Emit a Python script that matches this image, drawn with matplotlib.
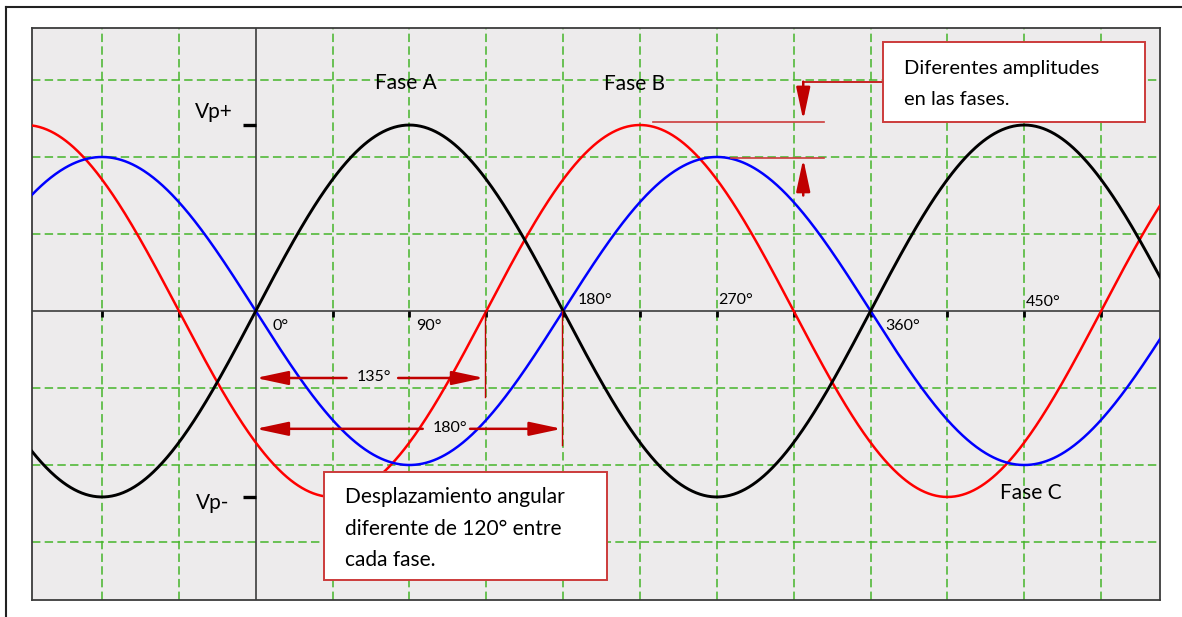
import numpy as np
import matplotlib.pyplot as plt
from matplotlib.lines import Line2D
from matplotlib.patches import Rectangle

"""
Three phase voltages with unbalanced amplitude and angle (Fase A, B, C).
x axis in electrical degrees, y axis in grid divisions.
"""

# phase data
phase_names = ["Fase A", "Fase B", "Fase C"]
amplitudes = [2.415, 2.415, 2.0]        # grid divisions
phase_shifts = [0.0, 135.0, 180.0]      # degrees
phase_colors = ["black", "#ff0000", "#0000ff"]
phase_widths = [2.1, 1.8, 1.8]

angle_labels = ["0°", "90°", "180°", "270°", "360°", "450°"]
angle_values = [0, 90, 180, 270, 360, 450]
axis_ticks = [-90, -45, 45, 90, 135, 180, 225, 270, 315, 360, 405, 450, 495]

x_min, x_max = -131.0, 529.5
y_min, y_max = -3.753, 3.675

font = ["Lato", "DejaVu Sans"]
dark_red = "#c00000"
box_red = "#cc3b3b"
grid_green = "#45b52a"

fig = plt.figure(figsize=(11.82, 6.17), dpi=100)
ax = fig.add_axes([32 / 1182, 1 - 600 / 617, 1128 / 1182, 572 / 617])
ax.set_facecolor("#edebec")
ax.set_xlim(x_min, x_max)
ax.set_ylim(y_min, y_max)
ax.set_xticks([])
ax.set_yticks([])
for sp in ax.spines.values():
    sp.set_color("#3c3c3c")
    sp.set_linewidth(1.3)

# dashed green grid, every 45 degrees / one division
for gx in np.arange(-90, 530, 45):
    if gx != 0:
        ax.axvline(gx, color=grid_green, lw=1.1, ls=(0, (5.5, 2.8)), zorder=1)
for gy in [-3, -2, -1, 1, 2, 3]:
    ax.axhline(gy, color=grid_green, lw=1.1, ls=(0, (5.5, 2.8)), zorder=1)

# centre axes
ax.axhline(0, color="#3c3c3c", lw=1.2, zorder=2)
ax.axvline(0, color="#3c3c3c", lw=1.2, zorder=2)
ax.vlines(axis_ticks, -0.08, 0, color="black", lw=2.0, zorder=2)
ax.hlines([amplitudes[0], -amplitudes[0]], -7.5, 0, color="black", lw=2.4, zorder=2)

# the three phases
theta = np.linspace(x_min, x_max, 1200)
for name, amp, shift, col, lw in zip(phase_names, amplitudes, phase_shifts,
                                      phase_colors, phase_widths):
    ax.plot(theta, amp * np.sin(np.radians(theta - shift)), color=col, lw=lw,
            zorder=4 if col == "black" else 3, label=name)

# text labels
ax.text(87.9, 2.96, "Fase A", fontsize=15, family=font, ha="center", va="center")
ax.text(221.8, 2.95, "Fase B", fontsize=15, family=font, ha="center", va="center")
ax.text(454, -2.36, "Fase C", fontsize=15, family=font, ha="center", va="center")
ax.text(-24.4, 2.59, "Vp+", fontsize=15, family=font, ha="center", va="center")
ax.text(-25, -2.49, "Vp-", fontsize=15, family=font, ha="center", va="center")

label_y = [-0.2, -0.2, 0.14, 0.14, -0.2, 0.12]
label_dx = [9.8, 93.8, 188.3, 270.8, 368.8, 450.9]
for txt, lx, ly in zip(angle_labels, label_dx, label_y):
    ax.text(lx, ly, txt, fontsize=11.5, family=font, ha="left", va="center", zorder=5)


def arrow(tail, tip):
    ax.annotate("", xy=tip, xytext=tail, zorder=6,
                arrowprops=dict(arrowstyle="-|>,head_length=1.4,head_width=0.3",
                                mutation_scale=14, color=dark_red, lw=1.8,
                                shrinkA=0, shrinkB=0))


# 135 degree displacement
arrow((53.2, -0.87), (0, -0.87))
arrow((83.4, -0.87), (133.8, -0.87))
ax.text(69.3, -0.86, "135°", fontsize=11.5, family=font, ha="center", va="center", zorder=6)
ax.plot([134, 134], [0, -1.12], color=dark_red, lw=1.0, zorder=5)

# 180 degree displacement
arrow((97.8, -1.53), (0, -1.53))
arrow((125.5, -1.53), (179.2, -1.53))
ax.text(113.5, -1.52, "180°", fontsize=11.5, family=font, ha="center", va="center", zorder=6)
ax.plot([179.6, 179.6], [0, -1.74], color=dark_red, lw=1.0, zorder=5)

# amplitude difference marks
ax.plot([232.7, 332.7], [2.455, 2.455], color=box_red, lw=1.2, zorder=5)
ax.plot([278.3, 332.7], [1.99, 1.99], color=box_red, lw=1.2, zorder=5)
ax.plot([367.4, 320.6], [2.978, 2.978], color=dark_red, lw=1.2, zorder=5)
arrow((320.6, 2.978), (320.6, 2.48))
arrow((320.6, 1.50), (320.6, 1.975))

# callout boxes
ax.add_patch(Rectangle((367.4, 2.455), 153.3, 1.039, facecolor="white",
                       edgecolor=box_red, lw=1.4, zorder=7))
ax.text(379.7, 3.15, "Diferentes amplitudes", fontsize=14.5, family=font,
        ha="left", va="center", zorder=8)
ax.text(379.7, 2.75, "en las fases.", fontsize=14.5, family=font,
        ha="left", va="center", zorder=8)

ax.add_patch(Rectangle((40.0, -3.494), 165.7, 1.403, facecolor="white",
                       edgecolor=box_red, lw=1.4, zorder=7))
box2_lines = ["Desplazamiento angular", "diferente de 120° entre", "cada fase."]
for line, ly in zip(box2_lines, [-2.42, -2.835, -3.24]):
    ax.text(52.3, ly, line, fontsize=15, family=font, ha="left", va="center", zorder=8)

# outer frame (top and left only, picture is cropped)
fig.add_artist(Line2D([6 / 1182, 1], [1 - 7 / 617, 1 - 7 / 617], color="#222222", lw=1.5))
fig.add_artist(Line2D([6 / 1182, 6 / 1182], [0, 1 - 7 / 617], color="#222222", lw=1.5))

fig.savefig("out.png", dpi=100)
